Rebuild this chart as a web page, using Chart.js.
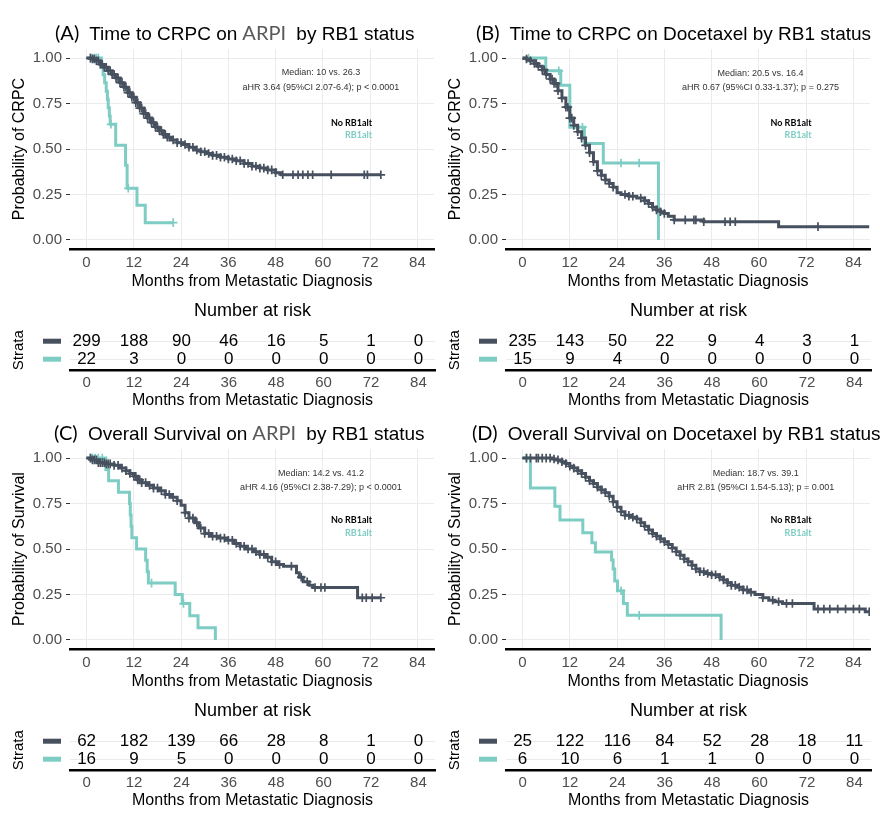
<!DOCTYPE html>
<html>
<head>
<meta charset="utf-8">
<script src="https://cdn.jsdelivr.net/npm/chart.js@4.4.0/dist/chart.umd.min.js"></script>
<style>
  body { margin: 0; background: #fff; }
  #page { position: relative; width: 880px; height: 816px; overflow: hidden; font-family: "Liberation Sans", Arial, sans-serif; }
  canvas { position: absolute; }
  .ttl { position: absolute; white-space: nowrap; font-size: 19px; line-height: 24px; height: 24px; color: #000; z-index: 2; }
  .ttl .tag, .ttl .drug { font-family: Lato, "Open Sans", sans-serif; font-size: 20px; }
  .ttl .tag { margin-right: 5px; }
  .ttl .drug { color: #595959; margin: 0 5px; }
</style>
</head>
<body>
<div id="page">
  <div class="ttl" style="left:55px;top:20px"><span class="tag">(A)</span> Time to CRPC on<span class="drug">ARPI</span> by RB1 status</div>
  <div class="ttl" style="left:476px;top:20px"><span class="tag">(B)</span> Time to CRPC on Docetaxel by RB1 status</div>
  <div class="ttl" style="left:54px;top:420px"><span class="tag">(C)</span> Overall Survival on<span class="drug">ARPI</span> by RB1 status</div>
  <div class="ttl" style="left:472px;top:420px"><span class="tag">(D)</span> Overall Survival on Docetaxel by RB1 status</div>

  <canvas id="kmA" width="440" height="300" style="left:0;top:0"></canvas>
  <canvas id="riskA" width="440" height="112" style="left:0;top:300px"></canvas>
  <canvas id="kmB" width="440" height="300" style="left:436px;top:0"></canvas>
  <canvas id="riskB" width="440" height="112" style="left:436px;top:300px"></canvas>
  <canvas id="kmC" width="440" height="300" style="left:0;top:400px"></canvas>
  <canvas id="riskC" width="440" height="112" style="left:0;top:700px"></canvas>
  <canvas id="kmD" width="440" height="300" style="left:436px;top:400px"></canvas>
  <canvas id="riskD" width="440" height="112" style="left:436px;top:700px"></canvas>
</div>
<script>
// axes
const monthTicks = [0, 12, 24, 36, 48, 60, 72, 84];
const probTicks = [0, 0.25, 0.5, 0.75, 1];
const strataNames = ['No RB1alt', 'RB1alt'];
const xTitle = 'Months from Metastatic Diagnosis';

// (A) time to CRPC on ARPI
const aNoTime = [0,1.5,2.5,3.5,4.5,5.5,6.5,7.5,8.5,9.5,10.5,11.5,12.5,13.5,14.5,15.5,16.5,17.5,18.5,19.5,20.5,21.5,23,24.5,26,27.5,29,30.5,32,34,36,38,40,42,44,46,48,49.5,74.7];
const aNoSurv = [1,0.995,0.985,0.965,0.95,0.93,0.91,0.89,0.865,0.84,0.81,0.785,0.755,0.725,0.695,0.67,0.645,0.62,0.6,0.58,0.565,0.55,0.535,0.525,0.51,0.495,0.485,0.475,0.465,0.455,0.445,0.435,0.42,0.405,0.395,0.385,0.37,0.358,0.358];
const aNoCens = [1,1.5,2,2.5,3,3.5,4,4.5,5,5.5,6,6.5,7,7.5,8,8.5,9,9.5,10,10.5,11,11.5,12,12.5,13,13.5,14,14.5,15,15.5,16,16.5,17,17.5,18,18.5,19,19.5,20,20.5,21,22,23,24,25,26,27,28,29,30,31,32,33,34,35,36,37,38,39,40,41,42,43,44,45,46,47,48,49.8,52.4,53.7,54.9,56.2,57.4,62.1,70.5,71.3,74.7];
const aRbTime = [0,3.8,4.2,4.6,5.0,5.3,5.5,5.8,6.0,7.4,9.9,10.3,12.8,14.9,22];
const aRbSurv = [1,0.955,0.909,0.864,0.818,0.773,0.727,0.682,0.636,0.52,0.41,0.284,0.19,0.095,0.095];
const aRbCens = [1,1.5,2,2.5,3,6.2,10.6,22];
const aRiskNo = [299,188,90,46,16,5,1,0];
const aRiskRb = [22,3,0,0,0,0,0,0];

// (B) time to CRPC on docetaxel
const bNoTime = [0,1,2,3,4,5,6,7,8,9,10,11,12,13,14,15,16,17,18,19,20,21,22,23,24,25,27,29,31,32,33,34,35,36,37,38.5,46,65,88];
const bNoSurv = [1,0.995,0.985,0.97,0.955,0.935,0.91,0.885,0.86,0.82,0.78,0.73,0.67,0.63,0.595,0.56,0.52,0.48,0.43,0.38,0.355,0.33,0.31,0.29,0.26,0.25,0.24,0.23,0.215,0.2,0.18,0.165,0.155,0.145,0.13,0.11,0.1,0.073,0.073];
const bNoCens = [1,2,3,3.5,4,5,5.5,6,7,7.5,8,8.5,9,10,11,11.5,12,12.5,13,14,15,16,17,18,19,20,21,22,23,26,27,28,30,31,32,33,34,35,36,38.5,41.3,43.5,44,46,51.4,52.7,54,75];
const bRbTime = [0,5.9,9.7,12,15.7,20.5,34.5];
const bRbSurv = [1,0.93,0.85,0.62,0.53,0.423,0];
const bRbCens = [1.5,9.2,15.2,25,29.6];
const bRiskNo = [235,143,50,22,9,4,3,1];
const bRiskRb = [15,9,4,0,0,0,0,0];

// (C) overall survival on ARPI
const cNoTime = [0,1.5,3,5,7,8.5,10,11,12,13,14,15.5,17,18.5,20,21.5,23,24,25,26,27.5,28.5,30,31.5,33.5,35.5,37.5,39,40.5,42.5,44,45.5,47,48.5,50,53.3,54,55,56.5,57.5,68.8,74.7];
const cNoSurv = [1,0.99,0.975,0.968,0.96,0.945,0.93,0.915,0.9,0.88,0.865,0.85,0.835,0.82,0.8,0.785,0.765,0.74,0.7,0.67,0.645,0.615,0.585,0.57,0.56,0.548,0.53,0.515,0.5,0.485,0.47,0.455,0.43,0.415,0.405,0.37,0.345,0.32,0.3,0.288,0.232,0.232];
const cNoCens = [1,1.5,2,2.5,3,3.5,4,4.5,5,5.5,6,7,8,9,10,11,12,12.5,13,13.5,14,15,16,17,18,19,20,21,22,23,25,26,27,28,29,30,31,32,33,34,35,36,37,38,39,40,41,42,43,44,45,46,47,48,49,52,54.5,56,58,59.5,60.5,70,71,72.5,74.7];
const cRbTime = [0,4.9,5.6,8.1,10.9,11.1,11.3,11.5,12.7,15.0,15.4,15.7,22.5,24.3,26.2,28.3,32.7];
const cRbSurv = [1,0.9375,0.875,0.8125,0.75,0.6875,0.625,0.5625,0.5,0.4375,0.375,0.3125,0.25,0.2,0.133,0.067,0];
const cRbCens = [1,1.5,2.2,3,4,16.5,24.6];
const cRiskNo = [62,182,139,66,28,8,1,0];
const cRiskRb = [16,9,5,0,0,0,0,0];

// (D) overall survival on docetaxel
const dNoTime = [0,7.5,8.5,10,11,12,13,14,15,16,17,18,19,20,21,22,23,24,25,26,27.5,29,30,31,32,33,34,35,36,37,38,39,40,41,42,43,44,45,46.5,48,50,51,52,53,54.5,56,57.5,59,61,62.5,64,66,74,87,88];
const dNoSurv = [1,0.995,0.99,0.98,0.97,0.955,0.945,0.93,0.915,0.895,0.875,0.86,0.84,0.825,0.81,0.79,0.76,0.73,0.705,0.685,0.675,0.665,0.645,0.625,0.605,0.585,0.57,0.555,0.54,0.525,0.505,0.485,0.465,0.445,0.43,0.41,0.39,0.375,0.365,0.358,0.345,0.33,0.315,0.3,0.29,0.275,0.262,0.25,0.232,0.218,0.21,0.2,0.17,0.155,0.155];
const dNoCens = [1,2,3.5,4,5,6,7,8,9,10,11,12,13,14,15,16,17,18,19,20,21,22,23,24,25,26,27,28,29,30,31,32,33,34,35,36,37,38,39,40,41,42,43,44,45,46,47,48,49,50,51,52,53,54,55,56,57,58,61,63.5,65,67,68.5,75,76.5,78,80,82,84,85.5,88];
const dRbTime = [0,2.0,8.2,9.5,15.3,17.6,18.5,22.6,23.0,23.4,24.1,25.6,26.6,50.4];
const dRbSurv = [1,0.835,0.735,0.66,0.59,0.535,0.484,0.44,0.39,0.324,0.27,0.2,0.135,0];
const dRbCens = [1,25,29.6];
const dRiskNo = [25,122,116,84,52,28,18,11];
const dRiskRb = [6,10,6,1,1,0,0,0];

const DARK = '#46505f';
const TEAL = '#7ecdc4';
const GRID = '#ebebeb';
const TICK = '#4d4d4d';
const SANS = '"Liberation Sans", Arial, sans-serif';
Chart.defaults.font.family = SANS;

function stepPoints(t, s) {
  return t.map((v, i) => ({ x: v, y: s[i] }));
}
// censor marks sit on the curve at the censoring time
function censorPoints(t, s, c) {
  return c.map(ct => {
    let k = 0;
    for (let i = 0; i < t.length; i++) if (t[i] <= ct) k = i;
    return { x: ct, y: s[k] };
  });
}
const fixTicks = vals => scale => { scale.ticks = vals.map(v => ({ value: v })); };

const kmNotes = {
  id: 'kmNotes',
  afterDatasetsDraw(chart, args, o) {
    const { ctx, scales: { x, y } } = chart;
    ctx.save();
    ctx.textBaseline = 'middle';
    ctx.textAlign = 'center';
    ctx.fillStyle = '#333';
    ctx.font = '9px ' + SANS;
    ctx.fillText(o.median, x.getPixelForValue(o.statX), y.getPixelForValue(o.statY[0]));
    ctx.fillText(o.hr, x.getPixelForValue(o.statX), y.getPixelForValue(o.statY[1]));
    ctx.textAlign = 'right';
    ctx.font = 'bold 9px Lato, "Open Sans", sans-serif';
    ctx.fillStyle = '#000';
    ctx.fillText(strataNames[0], x.getPixelForValue(o.keyX), y.getPixelForValue(o.keyY[0]));
    ctx.fillStyle = TEAL;
    ctx.fillText(strataNames[1], x.getPixelForValue(o.keyX), y.getPixelForValue(o.keyY[1]));
    ctx.restore();
  }
};

function drawKM(id, p) {
  const curve = (t, s, col) => ({ data: stepPoints(t, s), borderColor: col, borderWidth: 3, stepped: 'before', pointRadius: 0 });
  const marks = (t, s, c, col) => ({ data: censorPoints(t, s, c), showLine: false, pointStyle: 'cross', pointRadius: 4.3, pointBorderColor: col, pointBorderWidth: 1.7, borderColor: col });
  new Chart(document.getElementById(id), {
    type: 'line',
    data: {
      datasets: [
        curve(p.noT, p.noS, DARK), marks(p.noT, p.noS, p.noC, DARK),
        curve(p.rbT, p.rbS, TEAL), marks(p.rbT, p.rbS, p.rbC, TEAL)
      ]
    },
    options: {
      responsive: false, animation: false, events: [],
      layout: { padding: { top: 49, right: 5, left: 0, bottom: 0 } },
      plugins: { legend: { display: false }, tooltip: { enabled: false }, kmNotes: p.notes },
      scales: {
        x: {
          type: 'linear', min: -4.2, max: 88.2,
          afterBuildTicks: fixTicks(monthTicks), afterFit: s => { s.height = 51; },
          grid: { color: GRID, drawTicks: false },
          border: { display: true, color: '#000', width: 2.5 },
          ticks: { color: TICK, font: { size: 15 }, padding: 5, maxRotation: 0, callback: v => v },
          title: { display: true, text: xTitle, color: '#000', font: { size: 16 }, padding: { top: 0, bottom: 9 } }
        },
        y: {
          type: 'linear', min: -0.05, max: 1.05,
          afterBuildTicks: fixTicks(probTicks), afterFit: s => { s.width = 70; },
          grid: { color: GRID, tickColor: '#333', tickLength: 4 },
          border: { display: false },
          ticks: { color: TICK, font: { size: 15 }, padding: 4, callback: v => v.toFixed(2) },
          title: { display: true, text: p.ylab, color: '#000', font: { size: 16 }, padding: { top: 10, bottom: 0 } }
        }
      }
    },
    plugins: [kmNotes]
  });
}

const riskText = {
  id: 'riskText',
  afterDatasetsDraw(chart) {
    const { ctx, chartArea } = chart;
    ctx.save();
    ctx.font = '17px ' + SANS;
    ctx.textAlign = 'center';
    ctx.textBaseline = 'middle';
    chart.data.datasets.forEach((ds, di) => {
      const meta = chart.getDatasetMeta(di);
      ctx.fillStyle = '#000';
      meta.data.forEach((pt, i) => ctx.fillText(String(ds.data[i].n), pt.x, pt.y));
      ctx.fillStyle = ds.swatch;
      ctx.fillRect(chartArea.left - 27, meta.data[0].y - 2.5, 18, 5);
    });
    ctx.restore();
  }
};

function drawRisk(id, no, rb) {
  new Chart(document.getElementById(id), {
    type: 'scatter',
    data: {
      datasets: [
        { label: strataNames[0], data: monthTicks.map((m, i) => ({ x: m, y: 2, n: no[i] })), pointRadius: 0, swatch: DARK },
        { label: strataNames[1], data: monthTicks.map((m, i) => ({ x: m, y: 1, n: rb[i] })), pointRadius: 0, swatch: TEAL }
      ]
    },
    options: {
      responsive: false, animation: false, events: [],
      layout: { padding: { top: 0.2, right: 5, left: 0, bottom: 0 } },
      plugins: {
        legend: { display: false }, tooltip: { enabled: false },
        title: { display: true, text: 'Number at risk', fullSize: false, color: '#000', font: { size: 18, weight: 'normal' }, padding: { top: 0, bottom: 8.6 } }
      },
      scales: {
        x: {
          type: 'linear', min: -4.2, max: 88.2,
          afterBuildTicks: fixTicks(monthTicks), afterFit: s => { s.height = 42; },
          grid: { display: false, drawTicks: false },
          border: { display: true, color: '#000', width: 2.5 },
          ticks: { color: TICK, font: { size: 15 }, padding: 4, maxRotation: 0, callback: v => v },
          title: { display: true, text: xTitle, color: '#000', font: { size: 16 }, padding: { top: 0, bottom: 1.4 } }
        },
        y: {
          type: 'linear', min: 0.4, max: 2.6,
          afterBuildTicks: fixTicks([1, 2]), afterFit: s => { s.width = 70; },
          grid: { color: GRID, drawTicks: false },
          border: { display: false },
          ticks: { display: false },
          title: { display: true, text: 'Strata', color: '#000', font: { size: 15 }, padding: { top: 10, bottom: 0 } }
        }
      }
    },
    plugins: [riskText]
  });
}

drawKM('kmA', {
  noT: aNoTime, noS: aNoSurv, noC: aNoCens, rbT: aRbTime, rbS: aRbSurv, rbC: aRbCens,
  ylab: 'Probability of CRPC',
  notes: { median: 'Median: 10 vs. 26.3', hr: 'aHR 3.64 (95%CI 2.07-6.4); p < 0.0001', statX: 59.5, statY: [0.918, 0.836], keyX: 72.5, keyY: [0.645, 0.578] }
});
drawKM('kmB', {
  noT: bNoTime, noS: bNoSurv, noC: bNoCens, rbT: bRbTime, rbS: bRbSurv, rbC: bRbCens,
  ylab: 'Probability of CRPC',
  notes: { median: 'Median: 20.5 vs. 16.4', hr: 'aHR 0.67 (95%CI 0.33-1.37); p = 0.275', statX: 60.4, statY: [0.914, 0.84], keyX: 73.4, keyY: [0.645, 0.577] }
});
drawKM('kmC', {
  noT: cNoTime, noS: cNoSurv, noC: cNoCens, rbT: cRbTime, rbS: cRbSurv, rbC: cRbCens,
  ylab: 'Probability of Survival',
  notes: { median: 'Median: 14.2 vs. 41.2', hr: 'aHR 4.16 (95%CI 2.38-7.29); p < 0.0001', statX: 59.5, statY: [0.914, 0.836], keyX: 72.5, keyY: [0.658, 0.59] }
});
drawKM('kmD', {
  noT: dNoTime, noS: dNoSurv, noC: dNoCens, rbT: dRbTime, rbS: dRbSurv, rbC: dRbCens,
  ylab: 'Probability of Survival',
  notes: { median: 'Median: 18.7 vs. 39.1', hr: 'aHR 2.81 (95%CI 1.54-5.13); p = 0.001', statX: 59.2, statY: [0.914, 0.836], keyX: 73.4, keyY: [0.658, 0.589] }
});
drawRisk('riskA', aRiskNo, aRiskRb);
drawRisk('riskB', bRiskNo, bRiskRb);
drawRisk('riskC', cRiskNo, cRiskRb);
drawRisk('riskD', dRiskNo, dRiskRb);
</script>
</body>
</html>
